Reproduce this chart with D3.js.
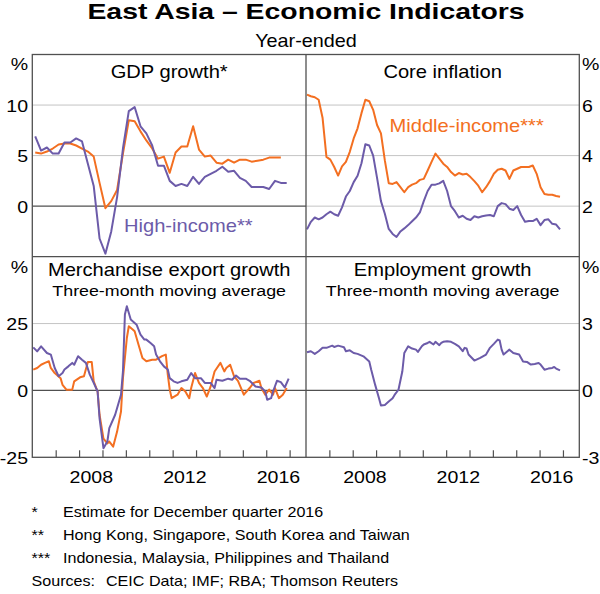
<!DOCTYPE html>
<html><head><meta charset="utf-8">
<script src="https://cdn.jsdelivr.net/npm/d3@7"></script>
<style>
body{margin:0;background:#fff}
svg{display:block}
text{font-family:"Liberation Sans",Arial,Helvetica,sans-serif;fill:#000}
</style>
</head><body>
<svg id="c" width="600" height="594"></svg>
<script>
// ---------------- DATA ----------------
const gdpQuarters = ["2006Q1","2006Q2","2006Q3","2006Q4","2007Q1","2007Q2","2007Q3","2007Q4",
 "2008Q1","2008Q2","2008Q3","2008Q4","2009Q1","2009Q2","2009Q3","2009Q4",
 "2010Q1","2010Q2","2010Q3","2010Q4","2011Q1","2011Q2","2011Q3","2011Q4",
 "2012Q1","2012Q2","2012Q3","2012Q4","2013Q1","2013Q2","2013Q3","2013Q4",
 "2014Q1","2014Q2","2014Q3","2014Q4","2015Q1","2015Q2","2015Q3","2015Q4",
 "2016Q1","2016Q2","2016Q3","2016Q4"];
const gdpHigh = [6.9,5.5,5.8,5.2,5.2,6.3,6.3,6.7,6.4,4.2,2.0,-3.2,-4.7,-2.5,0.9,5.7,
 9.4,9.8,7.9,7.2,6.0,4.0,4.0,2.5,2.0,2.2,2.0,2.9,2.2,2.9,3.2,3.5,
 3.9,3.4,3.5,2.8,2.5,1.9,1.9,1.9,1.7,2.5,2.3,2.3];
const gdpMid = [5.3,5.2,5.4,5.7,6.1,6.2,6.2,6.0,5.7,5.4,4.9,2.3,-0.2,0.5,1.6,5.2,
 8.5,8.4,7.4,6.5,5.7,4.7,4.9,3.3,5.3,5.9,5.9,7.9,5.6,4.9,5.0,4.3,
 4.2,4.6,4.3,4.6,4.6,4.4,4.5,4.6,4.8,4.8,4.8];

const inflDates = ["2006-01","2006-03","2006-05","2006-07","2006-09","2006-11",
 "2007-01","2007-03","2007-05","2007-07","2007-09","2007-11",
 "2008-01","2008-03","2008-05","2008-07","2008-09","2008-11",
 "2009-01","2009-03","2009-05","2009-07","2009-09","2009-11",
 "2010-01","2010-03","2010-05","2010-07","2010-09","2010-11",
 "2011-01","2011-03","2011-05","2011-07","2011-09","2011-11",
 "2012-01","2012-03","2012-05","2012-07","2012-09","2012-11",
 "2013-01","2013-03","2013-05","2013-07","2013-09","2013-11",
 "2014-01","2014-03","2014-05","2014-07","2014-09","2014-11",
 "2015-01","2015-03","2015-05","2015-07","2015-09","2015-11",
 "2016-01","2016-03","2016-05","2016-07","2016-09","2016-11"];
const inflMid = [6.41,6.35,6.31,6.21,5.50,3.95, 3.84,3.55,3.21,3.57,3.75,4.15,
 4.68,5.08,5.68,6.21,6.15,5.81, 5.21,4.88,3.81,2.91,2.88,2.95,
 2.75,2.55,2.75,2.85,2.91,3.04, 3.08,3.41,3.75,4.08,3.88,3.68,
 3.55,3.35,3.21,3.31,3.25,3.28, 3.15,2.99,2.81,2.55,2.75,2.99,
 3.28,3.44,3.48,3.41,3.08,3.41, 3.48,3.55,3.55,3.55,3.61,3.28,
 2.75,2.48,2.45,2.45,2.40,2.37];
const inflHigh = [1.08,1.38,1.55,1.48,1.55,1.68, 1.78,1.68,1.62,1.95,2.38,2.60,
 2.95,3.20,3.70,4.45,4.40,4.00, 3.12,2.20,1.70,1.10,0.90,0.78,
 1.00,1.12,1.25,1.40,1.55,1.75, 2.20,2.60,2.85,2.85,2.90,3.00,
 2.60,2.00,1.80,1.55,1.62,1.50, 1.45,1.60,1.55,1.60,1.63,1.65,
 1.60,2.00,2.12,2.08,1.90,1.85, 2.00,1.65,1.38,1.41,1.41,1.50,
 1.25,1.45,1.48,1.30,1.27,1.08];

const expHighDates = ["2006-01","2006-03","2006-05","2006-08","2006-10","2006-12","2007-02","2007-04","2007-05","2007-07","2007-09","2007-10","2007-12",
 "2008-02","2008-04","2008-06","2008-08","2008-10","2008-11","2009-01","2009-03","2009-04","2009-07","2009-10","2009-11","2009-12",
 "2010-01","2010-03","2010-04","2010-06","2010-08","2010-10","2010-11","2011-01","2011-03","2011-04","2011-06","2011-08","2011-10","2011-11",
 "2012-01","2012-03","2012-05","2012-08","2012-10","2012-12","2013-03","2013-05","2013-08","2013-10","2013-11",
 "2014-02","2014-05","2014-07","2014-09","2014-11","2015-02","2015-04","2015-07","2015-10","2015-12",
 "2016-01","2016-03","2016-04","2016-06","2016-08","2016-10","2016-12"];
const expHigh = [16.1,14.6,16.5,14.0,13.4,8.4,5.3,6.5,7.8,9.0,10.3,9.6,12.8,
 11.5,10.3,5.9,2.8,-0.4,-10.4,-21.6,-19.1,-14.1,-9.1,-1.6,7.1,28.4,
 31.5,26.5,25.9,24.6,20.9,19.0,19.0,17.8,16.5,13.4,10.9,9.0,7.8,4.6,
 3.4,2.8,3.4,4.0,6.5,4.6,4.6,2.8,2.8,0.9,4.0,
 3.6,4.4,4.0,5.6,4.4,4.4,3.6,1.5,1.1,-0.4,
 -3.5,-2.9,-0.4,3.6,3.1,1.1,4.4];

const expMidDates = ["2006-01","2006-03","2006-05","2006-07","2006-09","2006-10","2006-12","2007-03","2007-04","2007-06","2007-09","2007-10",
 "2008-01","2008-03","2008-05","2008-07","2008-08","2008-10","2008-11","2009-01","2009-03","2009-04","2009-06","2009-08","2009-10","2009-11",
 "2010-01","2010-02","2010-04","2010-05","2010-07","2010-09","2010-11","2011-02","2011-04","2011-07","2011-09","2011-10","2011-11","2011-12",
 "2012-03","2012-05","2012-07","2012-09","2012-10","2012-12","2013-02","2013-04","2013-06","2013-08","2013-10",
 "2014-01","2014-03","2014-04","2014-06","2014-08","2014-10","2015-01","2015-04","2015-06","2015-09","2015-10","2015-12",
 "2016-02","2016-04","2016-05","2016-07","2016-09","2016-11"];
const expMid = [7.8,8.4,9.6,10.3,10.9,8.4,6.5,4.6,2.1,0.3,0.3,3.4,
 4.9,5.3,10.6,10.6,3.4,-0.4,-9.1,-18.0,-19.8,-19.1,-21.0,-15.4,-7.9,4.6,
 19.6,24.0,22.8,22.1,17.1,12.1,10.9,11.5,11.5,12.8,13.4,5.9,0.3,-2.9,
 -1.6,0.9,-0.4,-2.9,0.9,6.5,2.8,0.9,-2.3,1.5,7.1,
 10.3,7.1,8.4,9.6,5.3,3.6,-1.6,0.9,2.8,3.6,0.9,-1.6,
 0.3,-1.6,0.9,-2.9,-1.6,0.9];

const empDates = ["2006-01","2006-03","2006-05","2006-07","2006-09","2006-11","2007-02","2007-03","2007-05","2007-08","2007-09","2007-11",
 "2008-01","2008-03","2008-06","2008-09","2008-10","2008-12","2009-02","2009-03","2009-05","2009-07","2009-09","2009-10","2009-12",
 "2010-02","2010-03","2010-05","2010-07","2010-09","2010-10","2010-12","2011-01","2011-03","2011-04","2011-06","2011-07","2011-09","2011-10","2011-11",
 "2012-01","2012-03","2012-05","2012-07","2012-09","2012-10","2012-11","2012-12","2013-02","2013-03","2013-06","2013-09","2013-11",
 "2014-01","2014-03","2014-04","2014-05","2014-06","2014-08","2014-09","2014-11","2015-02","2015-04","2015-06","2015-08","2015-10","2015-12",
 "2016-01","2016-03","2016-05","2016-07","2016-08","2016-09","2016-11"];
const empHigh = [1.71,1.76,1.64,1.76,1.91,1.91,2.01,1.95,2.01,1.94,1.76,1.80,
 1.68,1.64,1.53,1.30,0.93,0.26,-0.35,-0.68,-0.65,-0.50,-0.35,-0.20,0.03,
 0.86,1.68,1.98,1.88,1.83,1.73,1.98,2.06,2.13,2.18,2.06,2.18,2.03,2.13,2.18,
 2.21,2.18,2.09,1.98,1.76,1.91,1.88,1.61,1.43,1.34,1.46,1.61,1.91,
 2.09,2.28,2.24,1.83,1.61,1.76,1.83,1.68,1.61,1.30,1.28,1.16,1.19,1.23,
 1.16,0.93,0.98,1.01,1.05,0.98,0.90];

const yearTicks = [2007,2008,2009,2010,2011,2012,2013,2014,2015,2016,2017];
const yearLabels = [2008,2012,2016];

const footnotes = [
 ["*","Estimate for December quarter 2016"],
 ["**","Hong Kong, Singapore, South Korea and Taiwan"],
 ["***","Indonesia, Malaysia, Philippines and Thailand"]];

// ---------------- LAYOUT ----------------
const ORANGE = "#f36f21", PURPLE = "#6c5ba9", FRAME = "#505050", GRID = "#c4c4c4";
const L = 32.3, M = 306, R = 579.3, T = 54.5, MY = 256.7, B = 457.3;
const SX = 1.15;
const svg = d3.select("#c");

function txt(x, y, s, size, anchor, opts = {}) {
  const t = svg.append("text")
    .attr("transform", `translate(${x},${y}) scale(${opts.sx || SX},1)`)
    .attr("text-anchor", anchor || "start")
    .attr("font-size", size)
    .text(s);
  if (opts.fill) t.style("fill", opts.fill);
  if (opts.bold) t.attr("font-weight", "bold");
  return t;
}

const parseM = s => { const [y, m] = s.split("-").map(Number); return y + (m - 0.5) / 12; };
const parseQ = s => +s.slice(0, 4) + (+s.slice(5) - 0.5) / 4;

const xl = d3.scaleLinear([2006, 2017.7], [L, M]);
const xr = d3.scaleLinear([2006, 2017.7], [M, R]);

const panels = [
  { x: xl, y: d3.scaleLinear([-5, 15], [MY, T]), grid: [5, 10], zero: true,
    series: [
      { t: gdpQuarters.map(parseQ), v: gdpMid, c: ORANGE },
      { t: gdpQuarters.map(parseQ), v: gdpHigh, c: PURPLE }] },
  { x: xr, y: d3.scaleLinear([0, 8], [MY, T]), grid: [2, 4, 6], zero: false,
    series: [
      { t: inflDates.map(parseM), v: inflMid, c: ORANGE },
      { t: inflDates.map(parseM), v: inflHigh, c: PURPLE }] },
  { x: xl, y: d3.scaleLinear([-25, 50], [B, MY]), grid: [25], zero: true,
    series: [
      { t: expMidDates.map(parseM), v: expMid, c: ORANGE },
      { t: expHighDates.map(parseM), v: expHigh, c: PURPLE }] },
  { x: xr, y: d3.scaleLinear([-3, 6], [B, MY]), grid: [3], zero: true,
    series: [
      { t: empDates.map(parseM), v: empHigh, c: PURPLE }] }
];

// grid lines
panels.forEach(p => {
  const [x0, x1] = p.x.range();
  p.grid.forEach(g => svg.append("line")
    .attr("x1", x0).attr("x2", x1).attr("y1", p.y(g)).attr("y2", p.y(g))
    .attr("stroke", GRID).attr("stroke-width", 1));
});
panels.forEach(p => {
  const [x0, x1] = p.x.range();
  if (p.zero) svg.append("line")
    .attr("x1", x0).attr("x2", x1).attr("y1", p.y(0)).attr("y2", p.y(0))
    .attr("stroke", FRAME).attr("stroke-width", 1.2);
});

// x axes (bottom panels)
[xl, xr].forEach(x => {
  const g = svg.append("g").attr("transform", `translate(0,${B})`).attr("color", FRAME)
    .call(d3.axisBottom(x).tickValues(yearTicks).tickSize(-7).tickFormat(""));
  g.select(".domain").remove();
  g.selectAll("line").attr("stroke-width", 1.2);
  const gl = svg.append("g").attr("transform", `translate(0,${B})`)
    .call(d3.axisBottom(x).tickValues(yearLabels.map(d => d + 0.5)).tickSize(0)
      .tickPadding(13.6).tickFormat(d => Math.floor(d)));
  gl.select(".domain").remove();
  gl.selectAll("text").attr("font-size", 17).attr("font-family", null)
    .attr("transform", `scale(${SX},1)`);
  gl.attr("font-family", null);
});

// series
panels.forEach(p => {
  p.series.forEach(s => {
    const pts = s.t.map((t, i) => [t, s.v[i]]);
    svg.append("path").datum(pts)
      .attr("fill", "none").attr("stroke", s.c).attr("stroke-width", 2)
      .attr("stroke-linejoin", "round")
      .attr("d", d3.line().x(d => p.x(d[0])).y(d => p.y(d[1])));
  });
});

// frame
svg.append("rect").attr("x", L).attr("y", T).attr("width", R - L).attr("height", B - T)
  .attr("fill", "none").attr("stroke", FRAME).attr("stroke-width", 1.3);
svg.append("line").attr("x1", M).attr("x2", M).attr("y1", T).attr("y2", B)
  .attr("stroke", FRAME).attr("stroke-width", 1.3);
svg.append("line").attr("x1", L).attr("x2", R).attr("y1", MY).attr("y2", MY)
  .attr("stroke", FRAME).attr("stroke-width", 1.3);

// y axes
function yAxis(scale, vals, side) {
  const ax = side === "left" ? d3.axisLeft(scale) : d3.axisRight(scale);
  const g = svg.append("g").attr("transform", `translate(${side === "left" ? 28 : 582},0)`)
    .call(ax.tickValues(vals).tickSize(0).tickPadding(0).tickFormat(d => d));
  g.select(".domain").remove();
  g.attr("font-family", null);
  g.selectAll("text").attr("font-size", 17).attr("dy", "0.35em")
    .attr("transform", `scale(${SX},1)`);
}
yAxis(panels[0].y, [0, 5, 10], "left");
yAxis(panels[2].y, [-25, 0, 25], "left");
yAxis(panels[1].y, [2, 4, 6], "right");
yAxis(panels[3].y, [-3, 0, 3], "right");
[T, MY].forEach(top => {
  txt(28, top + 15.8, "%", 17, "end");
  txt(582, top + 15.8, "%", 17, "start");
});

// titles
txt(306, 18.5, "East Asia \u2013 Economic Indicators", 22, "middle", { bold: true, sx: 1.29 });
txt(306, 46.7, "Year-ended", 18, "middle", { sx: 1.1 });
txt((L + M) / 2, 77.5, "GDP growth*", 17.5, "middle");
txt((M + R) / 2, 77.5, "Core inflation", 17.5, "middle");
txt((L + M) / 2, 275.7, "Merchandise export growth", 17.5, "middle");
txt((L + M) / 2, 295.7, "Three-month moving average", 15.5, "middle");
txt((M + R) / 2, 275.7, "Employment growth", 17.5, "middle");
txt((M + R) / 2, 295.7, "Three-month moving average", 15.5, "middle");

// series labels
txt(124, 231.7, "High-income**", 17.5, "start", { fill: PURPLE });
txt(389.5, 131.7, "Middle-income***", 17.5, "start", { fill: ORANGE });

// footnotes
footnotes.forEach((f, i) => {
  const y = 517.3 + i * 22.8;
  txt(31.5, y, f[0], 14, "start");
  txt(63, y, f[1], 14, "start");
});
txt(31.5, 585.7, "Sources:", 14, "start");
txt(106, 585.7, "CEIC Data; IMF; RBA; Thomson Reuters", 14, "start");
</script>
</body></html>
